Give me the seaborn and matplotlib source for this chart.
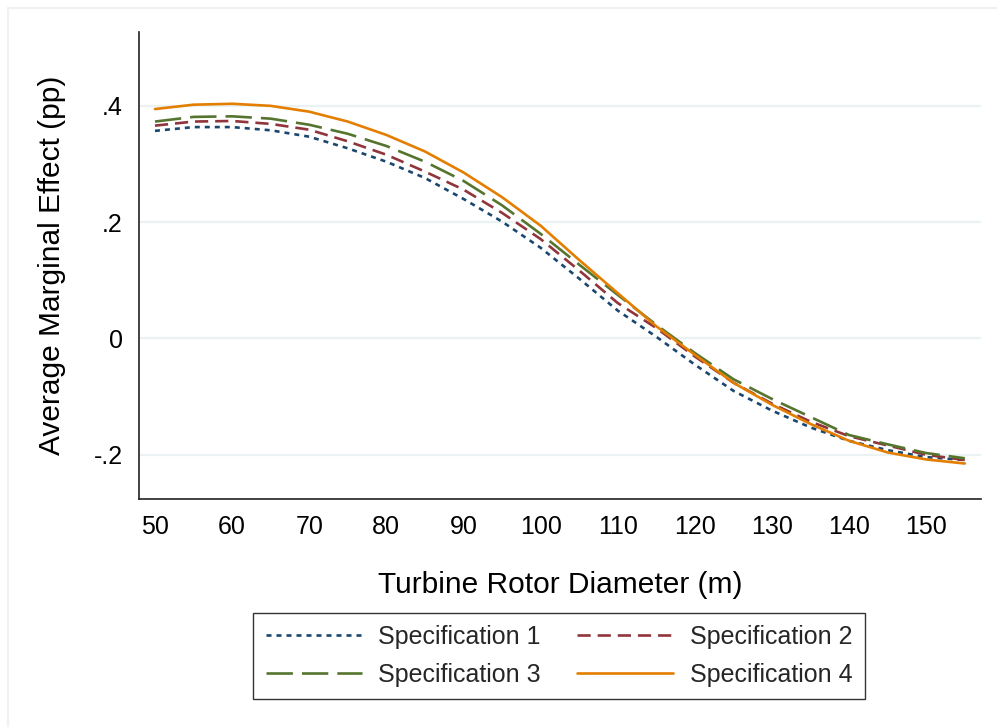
import numpy as np
import pandas as pd
import matplotlib
matplotlib.use("Agg")
import matplotlib.pyplot as plt
from matplotlib.lines import Line2D
import seaborn as sns

# ---------------- data ----------------
rotor_diameter = [50, 55, 60, 65, 70, 75, 80, 85, 90, 95, 100,
                  105, 110, 115, 120, 125, 130, 135, 140, 145, 150, 155]

spec1 = [0.357, 0.3635, 0.3635, 0.358, 0.347, 0.327, 0.304, 0.276, 0.240, 0.201, 0.156,
         0.103, 0.048, 0.003, -0.045, -0.090, -0.124, -0.153, -0.176, -0.192, -0.204, -0.209]
spec2 = [0.366, 0.373, 0.374, 0.369, 0.359, 0.339, 0.316, 0.287, 0.256, 0.216, 0.171,
         0.117, 0.061, 0.018, -0.031, -0.076, -0.112, -0.143, -0.168, -0.184, -0.200, -0.209]
spec3 = [0.373, 0.381, 0.382, 0.378, 0.3675, 0.352, 0.331, 0.304, 0.271, 0.229, 0.180,
         0.127, 0.075, 0.0235, -0.025, -0.070, -0.104, -0.135, -0.166, -0.182, -0.197, -0.206]
spec4 = [0.3945, 0.402, 0.4036, 0.400, 0.390, 0.373, 0.350, 0.3216, 0.2855, 0.243, 0.194,
         0.135, 0.078, 0.021, -0.028, -0.076, -0.114, -0.147, -0.176, -0.196, -0.208, -0.215]

labels = ["Specification 1", "Specification 2", "Specification 3", "Specification 4"]
series = [spec1, spec2, spec3, spec4]

x_ticks = [50, 60, 70, 80, 90, 100, 110, 120, 130, 140, 150]
y_ticks = [-0.2, 0.0, 0.2, 0.4]
y_tick_labels = ["-.2", "0", ".2", ".4"]

# ---------------- style ----------------
sns.set_style("white")
plt.rcParams["font.family"] = ["Liberation Sans", "DejaVu Sans"]
plt.rcParams["lines.scale_dashes"] = False

colors = ["#1a476f", "#90353b", "#55752f", "#e37e00"]
dash_patterns = [(3.6, 3.6), (9.5, 5.0), (19.0, 6.5), None]

df = pd.DataFrame({"Rotor": rotor_diameter})
for lab, vals in zip(labels, series):
    df[lab] = vals
long_df = df.melt(id_vars="Rotor", var_name="Spec", value_name="AME")

fig = plt.figure(figsize=(9.97, 7.27), dpi=100)
ax = fig.add_axes([139 / 997, 1 - 499 / 727, (981 - 139) / 997, (499 - 32) / 727])

handles = []
for lab, col, dsh in zip(labels, colors, dash_patterns):
    sub = long_df[long_df["Spec"] == lab]
    sns.lineplot(data=sub, x="Rotor", y="AME", color=col, lw=1.9, ax=ax,
                 label=lab, legend=False, estimator=None, sort=True)
    line = ax.lines[-1]
    if dsh is not None:
        line.set_dashes(dsh)
    handles.append(line)

ax.set_xlim(47.93, 157.1)
ax.set_ylim(-0.276, 0.527)
ax.set_xticks(x_ticks)
ax.set_yticks(y_ticks)
ax.set_yticklabels(y_tick_labels)
ax.tick_params(axis="both", which="major", direction="out", length=7.2, width=1.1,
               color="#222222", labelsize=18, labelcolor="black")
ax.tick_params(axis="x", pad=4.5)
ax.tick_params(axis="y", pad=4.5)

ax.yaxis.grid(True, color="#eaf2f3", lw=1.6)
ax.xaxis.grid(False)
ax.set_axisbelow(True)

for side in ["top", "right"]:
    ax.spines[side].set_visible(False)
for side in ["left", "bottom"]:
    ax.spines[side].set_color("#222222")
    ax.spines[side].set_linewidth(1.2)

ax.set_xlabel("Turbine Rotor Diameter (m)", fontsize=21.5, color="black")
ax.set_ylabel("Average Marginal Effect (pp)", fontsize=21.5, color="black")
ax.xaxis.set_label_coords(0.5, -(585 - 499) / 467)
ax.xaxis.label.set_va("center")
ax.yaxis.set_label_coords((52 - 139) / 842, 0.5)
ax.yaxis.label.set_va("center")

# matplotlib fills legend column-wise; reorder to get row-wise layout
leg_h = [handles[0], handles[2], handles[1], handles[3]]
leg_l = [labels[0], labels[2], labels[1], labels[3]]
leg = fig.legend(leg_h, leg_l, ncol=2, loc="center",
                 bbox_to_anchor=(559 / 997, 1 - 656 / 727),
                 fontsize=18, frameon=True, fancybox=False,
                 edgecolor="black", handlelength=3.85, handletextpad=0.65,
                 columnspacing=1.45, labelspacing=0.55, borderpad=0.5)
leg.get_frame().set_linewidth(1.0)

# faint outer graph-region border (top and left)
fig.add_artist(Line2D([8 / 997, 1.0], [1 - 8 / 727, 1 - 8 / 727],
                      transform=fig.transFigure, color="#eef2f2", lw=1.5))
fig.add_artist(Line2D([8 / 997, 8 / 997], [0.0, 1 - 8 / 727],
                      transform=fig.transFigure, color="#eef2f2", lw=1.5))

fig.savefig("out.png", dpi=100, facecolor="white")
